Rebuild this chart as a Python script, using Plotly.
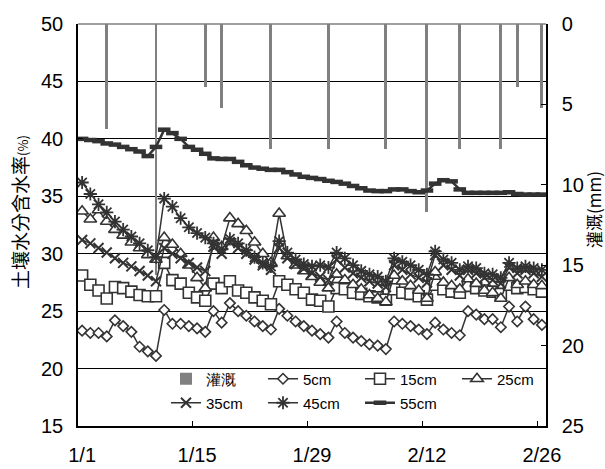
import plotly.graph_objects as go
import pandas as pd

# ---------------- data ----------------
dates = pd.date_range("2014-01-01", "2014-02-26", freq="D")

irr_dates = ["2014-01-04", "2014-01-10", "2014-01-16", "2014-01-18", "2014-01-24", "2014-01-31",
             "2014-02-07", "2014-02-12", "2014-02-16", "2014-02-21", "2014-02-23", "2014-02-26"]
irr_mm = [6.5, 15.6, 3.9, 5.2, 7.8, 7.8, 7.8, 11.7, 7.8, 7.8, 3.9, 5.2]

s5 = [23.3, 23.1, 23.1, 22.8, 24.2, 23.7, 23.2, 21.9, 21.5, 21.1,
      25.1, 23.9, 23.9, 23.7, 23.5, 23.2, 25.0, 24.0, 25.7, 25.0,
      24.6, 24.1, 23.7, 23.4, 25.2, 24.6, 24.1, 23.7, 23.3, 23.0,
      22.7, 24.1, 23.1, 22.7, 22.4, 22.1, 22.0, 21.7, 24.1, 23.9,
      23.7, 23.4, 23.0, 24.0, 23.4, 23.1, 22.9, 25.0, 24.7, 24.3,
      24.3, 23.6, 25.4, 24.1, 25.4, 24.3, 23.8]

s15 = [28.1, 27.3, 26.8, 26.1, 27.1, 27.0, 26.7, 26.4, 26.3, 26.3,
       29.2, 27.7, 27.4, 26.6, 26.2, 25.9, 27.4, 27.0, 27.6, 26.8,
       26.6, 26.2, 25.9, 25.6, 27.6, 27.3, 26.9, 26.6, 26.0, 25.9,
       25.4, 27.0, 26.9, 26.6, 26.5, 26.3, 26.2, 26.0, 26.9, 26.6,
       26.5, 26.3, 26.0, 27.3, 26.9, 26.7, 26.6, 27.2, 27.0, 26.8,
       26.7, 26.5, 27.3, 27.0, 27.1, 26.9, 26.7]

s25 = [33.7, 33.0, 33.8, 32.8, 32.1, 31.6, 31.0, 30.5, 29.9, 29.5,
       31.4, 30.8, 30.0, 29.0, 27.9, 27.0, 31.4, 30.6, 33.1, 32.6,
       32.0, 31.0, 30.0, 29.2, 33.5, 29.8, 29.0, 28.5, 28.0, 27.5,
       27.0, 28.2, 27.7, 27.3, 26.9, 26.4, 26.1, 25.8, 28.1, 27.6,
       27.2, 26.8, 26.1, 28.4, 27.5, 27.2, 26.9, 27.8, 27.4, 26.8,
       26.6, 26.1, 27.9, 27.3, 27.6, 27.3, 27.2]

s35 = [31.2, 30.9, 30.5, 30.1, 29.6, 29.2, 28.9, 28.5, 28.1, 27.6,
       30.5, 30.0, 29.6, 29.2, 28.8, 28.5, 30.6, 30.0, 31.0, 30.5,
       30.0, 29.5, 29.0, 28.6, 30.5, 29.6, 29.1, 28.7, 28.3, 28.0,
       27.7, 29.5, 28.8, 28.3, 27.9, 27.6, 27.4, 27.1, 29.0, 28.6,
       28.2, 27.9, 27.5, 29.9, 29.0, 28.6, 28.1, 28.6, 28.3, 27.9,
       27.7, 27.4, 28.8, 28.3, 28.6, 28.3, 28.0]

s45 = [36.2, 35.2, 34.3, 33.6, 32.8, 32.1, 31.5, 30.9, 30.3, 29.7,
       34.8, 34.1, 33.1, 32.3, 31.8, 31.4, 30.9, 30.4, 31.3, 30.9,
       30.3, 29.7, 29.2, 28.9, 31.1, 30.1, 29.5, 29.1, 28.9, 29.0,
       28.8, 30.1, 29.6, 29.0, 28.5, 28.2, 28.0, 27.6, 29.6, 29.3,
       29.0, 28.6, 28.2, 30.2, 29.5, 29.2, 28.6, 28.9, 28.75, 28.3,
       28.2, 27.9, 29.2, 28.75, 28.9, 28.75, 28.6]

s55 = [40.0, 39.9, 39.8, 39.6, 39.5, 39.3, 39.1, 38.9, 38.5, 39.3,
       40.8, 40.5, 40.0, 39.3, 39.05, 38.7, 38.3, 38.25, 38.25, 38.0,
       37.7, 37.5, 37.4, 37.3, 37.3, 37.1, 36.9, 36.7, 36.6, 36.5,
       36.35, 36.25, 36.1, 35.9, 35.7, 35.5, 35.45, 35.45, 35.6, 35.6,
       35.45, 35.35, 35.5, 36.1, 36.4, 36.3, 35.6, 35.3, 35.3, 35.3,
       35.3, 35.3, 35.35, 35.2, 35.15, 35.15, 35.15]

tick_labels = ["1/1", "1/15", "1/29", "2/12", "2/26"]
tick_dates = ["2014-01-01", "2014-01-15", "2014-01-29", "2014-02-12", "2014-02-26"]

# ---------------- figure ----------------
half = pd.Timedelta(hours=12)
x_range = [dates[0] - half, dates[-1] + half]
boundary_ticks = [pd.Timestamp(d) - half for d in tick_dates[1:]]

INK = "#333333"
FONT = "Arial, Liberation Sans, sans-serif"
CJK = "Noto Sans CJK TC, Arial, sans-serif"

fig = go.Figure()

fig.add_trace(go.Bar(
    x=irr_dates, y=irr_mm, name="灌溉", xaxis="x", yaxis="y",
    marker=dict(color="#808080", line=dict(width=0)), width=0.36 * 86400000,
    legend="legend"))

series = [
    ("5cm", s5, dict(symbol="diamond", size=8, color="white", line=dict(color=INK, width=1.6)), "legend", 1.5),
    ("15cm", s15, dict(symbol="square", size=11, color="white", line=dict(color=INK, width=1.6)), "legend", 1.5),
    ("25cm", s25, dict(symbol="triangle-up", size=11, color="white", line=dict(color=INK, width=1.6)), "legend", 1.5),
    ("35cm", s35, dict(symbol="x-thin", size=10, color=INK, line=dict(color=INK, width=2)), "legend2", 1.5),
    ("45cm", s45, dict(symbol="asterisk", size=11, color=INK, line=dict(color=INK, width=1.8)), "legend2", 1.5),
    ("55cm", s55, dict(symbol="line-ew", size=9, color=INK, line=dict(color=INK, width=4.5)), "legend2", 2.5),
]
for name, vals, mk, lg, lw in series:
    fig.add_trace(go.Scatter(
        x=dates, y=vals, name=name, mode="lines+markers", xaxis="x", yaxis="y2",
        line=dict(color=INK, width=lw), marker=mk, legend=lg))

fig.update_layout(
    width=605, height=469,
    margin=dict(l=78, r=59, t=24, b=43, autoexpand=False),
    paper_bgcolor="white", plot_bgcolor="white",
    font=dict(family=FONT, color="black", size=20),
    showlegend=True,
    bargap=0,
    xaxis=dict(type="date", range=x_range, tickvals=tick_dates, ticktext=tick_labels,
               ticks="", showticklabels=True, tickfont=dict(size=20, family=FONT),
               ticklabelstandoff=10,
               minor=dict(tickvals=boundary_ticks, ticks="inside", ticklen=5, tickcolor="black",
                          showgrid=False),
               showline=True, linecolor="black", linewidth=1.5, showgrid=False,
               zeroline=False, anchor="y", automargin=False),
    yaxis=dict(side="right", range=[25, 0], tickvals=[0, 5, 10, 15, 20, 25], ticks="inside",
               ticklen=5, tickcolor="black", showline=True, linecolor="black", linewidth=1.5,
               showgrid=False, zeroline=False, tickfont=dict(size=20), ticklabelstandoff=10,
               automargin=False),
    yaxis2=dict(overlaying="y", side="left", range=[15, 50], dtick=5, tick0=15, ticks="inside",
                ticklen=5, tickcolor="black", showline=True, linecolor="black", linewidth=1.5,
                showgrid=True, gridcolor="black", gridwidth=1, zeroline=False,
                tickfont=dict(size=20), ticklabelstandoff=9, automargin=False),
    legend=dict(orientation="h", x=(166 - 78) / 468, xanchor="left", y=(426 - 379) / 402,
                yanchor="middle", bgcolor="rgba(0,0,0,0)", font=dict(size=15, family=FONT),
                entrywidth=52, entrywidthmode="pixels", itemwidth=30, tracegroupgap=0),
    legend2=dict(orientation="h", x=(166 - 78) / 468, xanchor="left", y=(426 - 403) / 402,
                 yanchor="middle", bgcolor="rgba(0,0,0,0)", font=dict(size=15, family=FONT),
                 entrywidth=52, entrywidthmode="pixels", itemwidth=30, tracegroupgap=0),
    shapes=[dict(type="line", xref="paper", yref="paper", x0=0, x1=1, y0=1, y1=1,
                 line=dict(color="#808080", width=1.5), layer="above"),
            dict(type="rect", xref="paper", yref="paper", x0=(148 - 78) / 468, x1=(537 - 78) / 468,
                 y0=(426 - 415) / 402, y1=(426 - 365) / 402, fillcolor="white",
                 line=dict(width=0), layer="below")],
    annotations=[
        dict(text="土壤水分含水率<span style='font-size:13px'>(%)</span>", textangle=-90,
             xref="paper", yref="paper", x=(19 - 78) / 468, y=(426 - 212) / 402,
             xanchor="center", yanchor="middle", showarrow=False,
             font=dict(family=CJK, size=19, color="black")),
        dict(text="灌溉(mm)", textangle=-90,
             xref="paper", yref="paper", x=(593 - 78) / 468, y=(426 - 210) / 402,
             xanchor="center", yanchor="middle", showarrow=False,
             font=dict(family=CJK, size=17, color="black")),
    ],
)

fig.write_html("out.html", config={"displayModeBar": False},
               post_script="document.body.style.margin='0';")
